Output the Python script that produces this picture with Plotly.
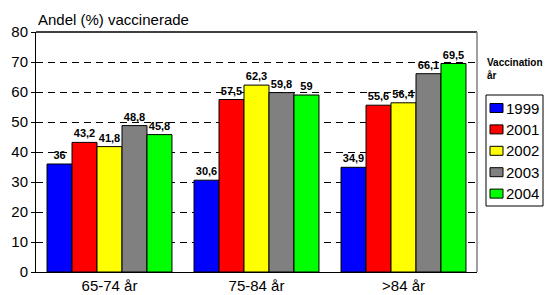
import plotly.graph_objects as go

categories = ["65-74 år", "75-84 år", ">84 år"]
years = ["1999", "2001", "2002", "2003", "2004"]
values = {
    "1999": [36, 30.6, 34.9],
    "2001": [43.2, 57.5, 55.6],
    "2002": [41.8, 62.3, 56.4],
    "2003": [48.8, 59.8, 66.1],
    "2004": [45.8, 59, 69.5],
}
colors = ["#0000ff", "#ff0000", "#ffff00", "#808080", "#00ff00"]
y_ticks = [0, 10, 20, 30, 40, 50, 60, 70, 80]

W, H = 551, 295
L, R, T, B = 36, 74, 32, 23
PW, PH = W - L - R, H - T - B

def px(x):
    return (x - L) / PW

def py(y):
    return (H - B - y) / PH

def fmt(v):
    return ("%g" % v).replace(".", ",")

FONT = "Liberation Sans, Arial"

fig = go.Figure()
for yr, col in zip(years, colors):
    vals = values[yr]
    fig.add_trace(go.Bar(
        name=yr, x=categories, y=vals,
        marker=dict(color=col, line=dict(color="black", width=1)),
        text=[fmt(v) for v in vals],
        textposition="outside",
        textfont=dict(family=FONT, size=11, color="black", weight="bold"),
        cliponaxis=False,
        showlegend=False,
    ))

shapes = [
    dict(type="line", xref="paper", yref="paper", x0=0, x1=1, y0=1, y1=1,
         line=dict(color="black", width=1.5)),
    dict(type="line", xref="paper", yref="paper", x0=1, x1=1, y0=0, y1=1,
         line=dict(color="#808080", width=1.5)),
    # legend box
    dict(type="rect", xref="paper", yref="paper", x0=px(486), x1=px(543),
         y0=py(206), y1=py(95), line=dict(color="black", width=1), fillcolor="white"),
]
annotations = [
    dict(text="Andel (%) vaccinerade", xref="paper", yref="paper", x=0, y=1,
         xanchor="left", yanchor="bottom", yshift=2, showarrow=False,
         font=dict(family=FONT, size=15)),
    dict(text="<b>Vaccination<br>år</b>", xref="paper", yref="paper",
         x=px(485), y=py(55), xanchor="left", yanchor="top", align="left",
         showarrow=False, font=dict(family=FONT, size=10)),
]
for i, (yr, col) in enumerate(zip(years, colors)):
    cy = 108 + i * 21.4
    shapes.append(dict(type="rect", xref="paper", yref="paper",
                       x0=px(490), x1=px(503), y0=py(cy + 4.5), y1=py(cy - 4.5),
                       line=dict(color="black", width=1), fillcolor=col))
    annotations.append(dict(text=yr, xref="paper", yref="paper", x=px(504), y=py(cy),
                            xanchor="left", yanchor="middle", showarrow=False,
                            font=dict(family=FONT, size=15)))

fig.update_layout(
    width=W, height=H,
    margin=dict(l=L, r=R, t=T, b=B),
    paper_bgcolor="white", plot_bgcolor="white",
    barmode="group", bargap=0.15, bargroupgap=0,
    font=dict(family=FONT, size=15, color="black"),
    showlegend=False,
    xaxis=dict(showline=True, linecolor="black", linewidth=1, ticks="",
               tickfont=dict(size=15), automargin=False),
    yaxis=dict(range=[0, 80], tickvals=y_ticks, showline=True, linecolor="black",
               linewidth=1, ticks="outside", ticklen=4, tickcolor="black",
               showgrid=True, gridcolor="black", gridwidth=1, griddash="7px,5px",
               tickfont=dict(size=15), zeroline=False, automargin=False),
    shapes=shapes,
    annotations=annotations,
)

fig.write_html("out.html", config={"displayModeBar": False},
               post_script="document.body.style.margin='0';document.body.style.overflow='hidden';")
